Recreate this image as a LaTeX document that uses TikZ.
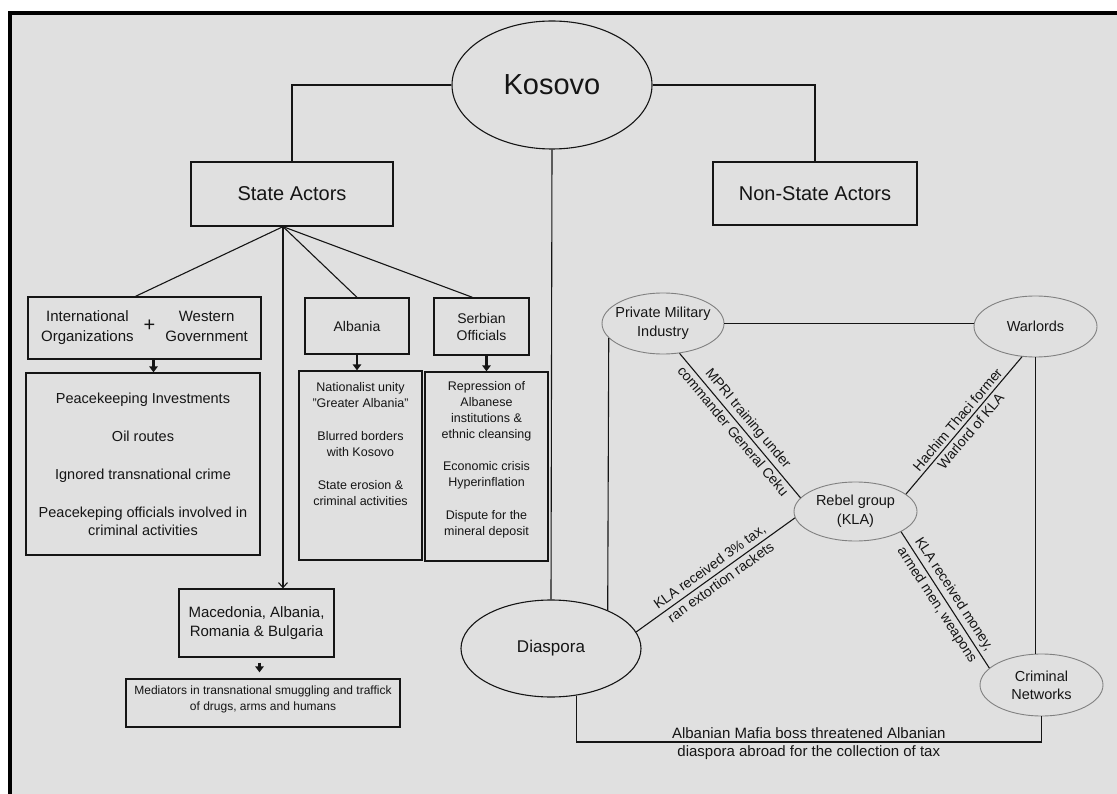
\documentclass[tikz,border=0pt]{standalone}
\usepackage{fontspec}
\setmainfont{Liberation Sans}
\usetikzlibrary{shapes.geometric,arrows.meta,calc}
\definecolor{bgc}{HTML}{E0E0E0}
\definecolor{ink}{HTML}{151515}
\newcommand{\fsz}[2]{\fontsize{#1}{#2}\selectfont}
\begin{document}
\begin{tikzpicture}[x=1pt,y=-1pt,
  every node/.style={text=ink},
  box/.style={draw=ink, line width=1.3pt, rectangle, inner sep=0pt, align=center},
  oval/.style={draw=ink, line width=1.1pt, ellipse, inner sep=0pt, align=center},
  soft/.style={draw=black!50, line width=0.9pt, ellipse, inner sep=0pt, align=center},
  conn/.style={draw=ink, line width=1.1pt},
  fat/.style={draw=ink, line width=2.4pt, -{Triangle[length=6pt,width=8.5pt]}},
  lbl/.style={font={\fsz{14}{16}}, inner sep=3pt},
  bot/.style={font={\fsz{15}{18}}, inner sep=3pt},
]
\useasboundingbox (0,0) rectangle (1117,794);
\fill[bgc] (0,0) rectangle (1117,794);
\fill[white] (0,0) rectangle (1117,11);
\fill[white] (0,0) rectangle (8,794);
\fill[black] (8,11) rectangle (1117,15);
\fill[black] (8,11) rectangle (12,794);

% top level
\node[oval, minimum width=200pt, minimum height=128pt, font={\fsz{29}{34}}] (kosovo) at (552,85) {Kosovo};
\node[box, minimum width=202pt, minimum height=64pt, font={\fsz{20}{24}}] (state) at (292,194) {State Actors};
\node[box, minimum width=204pt, minimum height=63pt, font={\fsz{20}{24}}] (nonstate) at (815,193.5) {Non-State Actors};

% state actors branch
\node[box, minimum width=233pt, minimum height=62pt, font={\fsz{15}{20}}] (io) at (144.5,328)
  {\begin{tabular}{@{}c@{}}International\\Organizations\end{tabular}\hspace{10pt}{\fsz{20}{20}+}\hspace{10pt}\begin{tabular}{@{}c@{}}Western\\Government\end{tabular}};
\node[box, minimum width=234pt, minimum height=182pt, font={\fsz{14.5}{18}}] (ioc) at (143,464)
  {Peacekeeping Investments\\[20pt]Oil routes\\[20pt]Ignored transnational crime\\[20pt]Peacekeping officials involved in\\criminal activities};
\node[box, minimum width=104pt, minimum height=56pt, font={\fsz{14}{17}}] (alb) at (357,326) {Albania};
\node[box, minimum width=123pt, minimum height=189pt] (albc) at (360.5,465.5)
  {\parbox[c][189pt][t]{121pt}{\centering\fsz{12.5}{16}\vspace*{11pt}Nationalist unity\\"Greater Albania"\\[17pt]Blurred borders\\with Kosovo\\[17pt]State erosion \&\\criminal activities}};
\node[box, minimum width=95pt, minimum height=57pt, font={\fsz{14}{17}}] (serb) at (481.5,326.5) {Serbian\\Officials};
\node[box, minimum width=123pt, minimum height=189pt] (serbc) at (486.5,466.5)
  {\parbox[c][189pt][t]{121pt}{\centering\fsz{12.5}{16}\vspace*{9pt}Repression of\\Albanese\\institutions \&\\ethnic cleansing\\[16pt]Economic crisis\\Hyperinflation\\[17pt]Dispute for the\\mineral deposit}};
\node[box, minimum width=155pt, minimum height=68pt, font={\fsz{15}{19}}] (mac) at (256.5,623) {Macedonia, Albania,\\Romania \& Bulgaria};
\node[box, minimum width=274pt, minimum height=48pt] (med) at (263,703)
  {\parbox[c][48pt][t]{272pt}{\centering\fsz{12}{16}\vspace*{7pt}Mediators in transnational smuggling and traffick\\of drugs, arms and humans}};

% non-state side
\node[soft, inner xsep=-6pt, minimum width=122pt, minimum height=61pt, font={\fsz{14.5}{19}}] (pmi) at (663,323.5) {Private Military\\Industry};
\node[soft, minimum width=123pt, minimum height=61pt, font={\fsz{14.5}{19}}] (warl) at (1035.5,326.5) {Warlords};
\node[soft, minimum width=123pt, minimum height=59pt, font={\fsz{14.5}{19}}] (rebel) at (855.5,511.5) {Rebel group\\(KLA)};
\node[oval, minimum width=180pt, minimum height=97pt, font={\fsz{17}{20}}] (diasp) at (551,648.5) {Diaspora};
\node[soft, minimum width=123pt, minimum height=62pt, font={\fsz{14.5}{18}}] (crim) at (1041.5,685) {Criminal\\Networks};

% connectors: top
\draw[conn] (kosovo.west) -| (state.north);
\draw[conn] (kosovo.east) -| (nonstate.north);
\draw[conn] (kosovo.south) -- (diasp.north);

% fan from state actors
\coordinate (sb) at ([xshift=-9pt]state.south);
\coordinate (iotop) at ([xshift=-9pt]io.north);
\coordinate (serbtop) at ([xshift=-9pt]serb.north);
\draw[conn] (sb) -- (iotop);
\draw[conn] (sb) -- (alb.north);
\draw[conn] (sb) -- (serbtop);
\draw[conn, -{Straight Barb[length=5pt,width=9pt]}] (sb) -- (sb |- mac.north);

% thick arrows
\coordinate (ioarr) at ([xshift=9pt]io.south);
\draw[fat] (ioarr) -- (ioarr |- ioc.north);
\draw[fat] (alb.south) -- (alb.south |- albc.north);
\draw[fat] (serbc.north |- serb.south) -- (serbc.north);
\coordinate (macarr) at ([xshift=3pt,yshift=-5pt]mac.south);
\coordinate (medarr) at ([xshift=-3.5pt,yshift=6pt]med.north);
\draw[fat] (macarr) -- (medarr);

% non-state network
\draw[conn] (pmi.east) -- (pmi.east -| warl.west);
\draw[conn] (pmi.195) -- (diasp.34);
\draw[conn] (warl.south) -- (warl.south |- crim.north);
\draw[conn] (pmi.-61) -- (rebel.166)
  node[lbl, midway, sloped, above] {MPRI training under}
  node[lbl, midway, sloped, below] {commander General Ceku};
\draw[conn] (rebel.19) -- (warl.-114)
  node[lbl, midway, sloped, above] {Hachim Thaci former}
  node[lbl, midway, sloped, below] {Warlord of KLA};
\draw[conn] (diasp.11) -- (rebel.186)
  node[lbl, midway, sloped, above] {KLA received 3\% tax,}
  node[lbl, midway, sloped, below] {ran extortion rackets};
\draw[conn] (rebel.-24) -- (crim.162)
  node[lbl, midway, sloped, above] {KLA received money,}
  node[lbl, midway, sloped, below] {armed men, weapons};

% bottom connector
\coordinate (bl) at (0,742);
\draw[conn] (diasp.-62) -- (diasp.-62 |- bl) -- (crim.south |- bl)
  node[bot, midway, above] {Albanian Mafia boss threatened Albanian}
  node[bot, midway, below] {diaspora abroad for the collection of tax}
  -- (crim.south);
\end{tikzpicture}
\end{document}
